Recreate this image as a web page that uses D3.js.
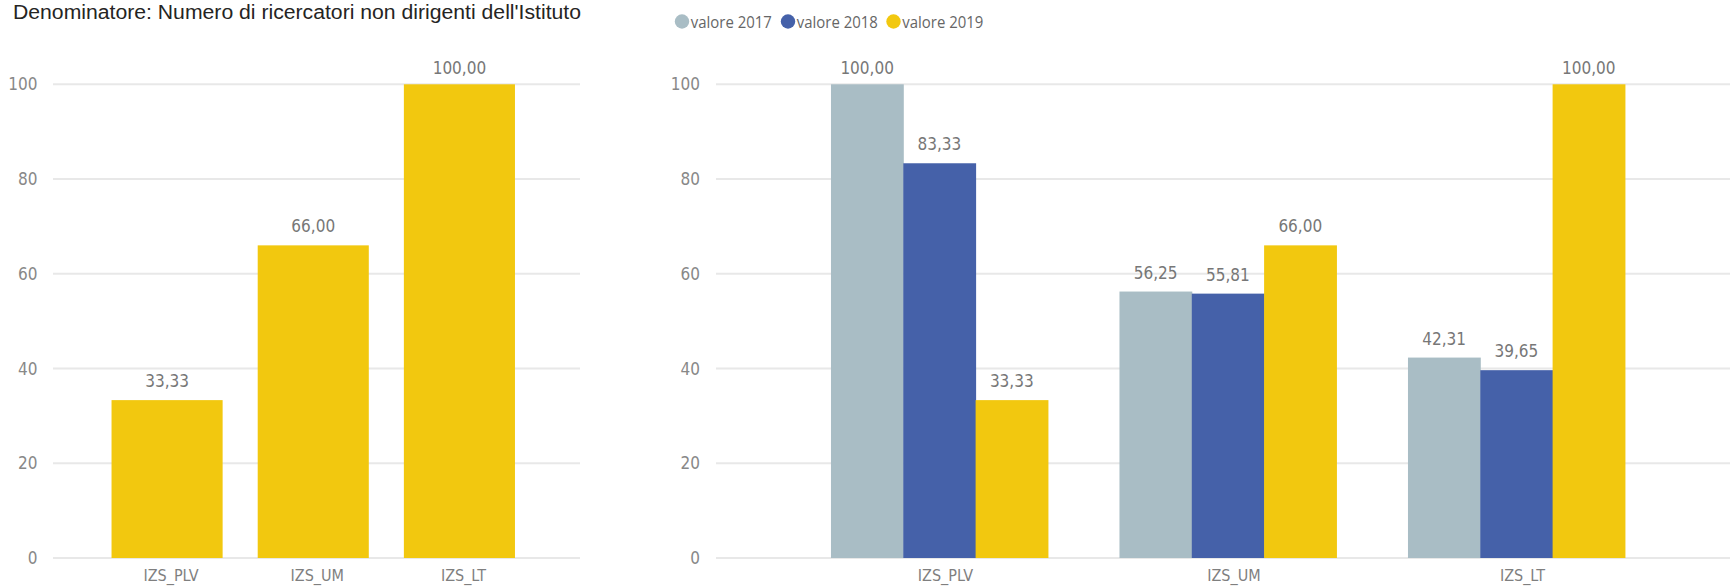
<!DOCTYPE html>
<html>
<head>
<meta charset="utf-8">
<script src="https://cdn.jsdelivr.net/npm/d3@7"></script>
<style>
  html, body { margin: 0; padding: 0; background: #ffffff; }
  svg { display: block; }
</style>
</head>
<body>
<svg id="chart" width="1730" height="587"></svg>
<script>
// ---- data ----
const titleText = "Denominatore: Numero di ricercatori non dirigenti dell'Istituto";
const categories = ["IZS_PLV", "IZS_UM", "IZS_LT"];
const seriesNames = ["valore 2017", "valore 2018", "valore 2019"];
const values2017 = [100.00, 56.25, 42.31];
const values2018 = [83.33, 55.81, 39.65];
const values2019 = [33.33, 66.00, 100.00];
const yTicks = [0, 20, 40, 60, 80, 100];
const seriesColors = ["#A9BDC5", "#4561A9", "#F2C80F"];

const narrow = "'Liberation Sans Narrow', 'DejaVu Sans Condensed', 'Arial Narrow', sans-serif";
const fmt = v => d3.format(".2f")(v).replace(".", ",");

const svg = d3.select("#chart");

// shared vertical scale
const y = d3.scaleLinear().domain([0, 100]).range([558, 84.3]);

function gridAndAxis(g, x0, x1, labelRight) {
  g.append("g")
    .selectAll("line")
    .data(yTicks)
    .join("line")
    .attr("x1", x0).attr("x2", x1)
    .attr("y1", d => y(d)).attr("y2", d => y(d))
    .attr("stroke", "#E8E8E8")
    .attr("stroke-width", 2);
  g.append("g")
    .selectAll("text")
    .data(yTicks)
    .join("text")
    .attr("x", labelRight)
    .attr("y", d => y(d))
    .attr("dy", "0.36em")
    .attr("text-anchor", "end")
    .attr("font-family", narrow)
    .attr("font-size", 17)
    .attr("fill", "#888888")
    .text(d => d);
}

function valueLabel(sel, xCenter, v) {
  sel.append("text")
    .attr("x", xCenter)
    .attr("y", Math.max(y(v) - 13, 73.5))
    .attr("text-anchor", "middle")
    .attr("font-family", narrow)
    .attr("font-size", 17)
    .attr("fill", "#777777")
    .text(fmt(v));
}

// ---- title ----
svg.append("text")
  .attr("x", 13)
  .attr("y", 18.5)
  .attr("font-family", "'Liberation Sans', Arial, sans-serif")
  .attr("font-size", 20)
  .attr("fill", "#252423")
  .attr("textLength", 568)
  .attr("lengthAdjust", "spacingAndGlyphs")
  .text(titleText);

// ---- left chart: 2019 only ----
const left = svg.append("g");
gridAndAxis(left, 53, 580, 37.5);

const xL = d3.scaleBand().domain(categories).range([94, 532.5])
  .paddingInner(0.24).paddingOuter(0.12);

left.append("g")
  .selectAll("rect")
  .data(categories)
  .join("rect")
  .attr("x", d => xL(d))
  .attr("width", xL.bandwidth())
  .attr("y", (d, i) => y(values2019[i]))
  .attr("height", (d, i) => y(0) - y(values2019[i]))
  .attr("fill", seriesColors[2]);

const leftLabels = left.append("g");
categories.forEach((c, i) => valueLabel(leftLabels, xL(c) + xL.bandwidth() / 2, values2019[i]));

const axL = left.append("g")
  .attr("transform", `translate(4,${y(0)})`)
  .call(d3.axisBottom(xL).tickSize(0).tickPadding(12));
axL.select(".domain").remove();
axL.selectAll("text")
  .attr("font-family", narrow)
  .attr("font-size", 16)
  .attr("fill", "#7F7F7F");

// ---- right chart: three years ----
const right = svg.append("g");
gridAndAxis(right, 716, 1730, 700);

const xR = d3.scaleBand().domain(categories).range([795.2, 1660.7])
  .paddingInner(0.248).paddingOuter(0.124);
const xSub = d3.scaleBand().domain(seriesNames).range([0, xR.bandwidth()]);

const seriesValues = [values2017, values2018, values2019];
const cells = [];
categories.forEach((c, i) => {
  seriesNames.forEach((s, j) => cells.push({ cat: c, ser: s, idx: j, v: seriesValues[j][i] }));
});

right.append("g")
  .selectAll("rect")
  .data(cells)
  .join("rect")
  .attr("x", d => xR(d.cat) + xSub(d.ser))
  .attr("width", xSub.bandwidth() + 0.5)
  .attr("y", d => y(d.v))
  .attr("height", d => y(0) - y(d.v))
  .attr("fill", d => seriesColors[d.idx]);

const rightLabels = right.append("g");
cells.forEach(d => valueLabel(rightLabels, xR(d.cat) + xSub(d.ser) + xSub.bandwidth() / 2, d.v));

const axR = right.append("g")
  .attr("transform", `translate(6,${y(0)})`)
  .call(d3.axisBottom(xR).tickSize(0).tickPadding(12));
axR.select(".domain").remove();
axR.selectAll("text")
  .attr("font-family", narrow)
  .attr("font-size", 16)
  .attr("fill", "#7F7F7F");

// ---- legend ----
const legendX = [682, 788, 893.5];
const legend = svg.append("g");
seriesNames.forEach((s, j) => {
  legend.append("circle")
    .attr("cx", legendX[j]).attr("cy", 21.5).attr("r", 7.2)
    .attr("fill", seriesColors[j]);
  legend.append("text")
    .attr("x", legendX[j] + 8.8)
    .attr("y", 28.3)
    .attr("font-family", "'Open Sans', 'Noto Sans', sans-serif")
    .attr("font-size", 17)
    .attr("fill", "#666666")
    .attr("textLength", 81)
    .attr("lengthAdjust", "spacingAndGlyphs")
    .text(s);
});
</script>
</body>
</html>
